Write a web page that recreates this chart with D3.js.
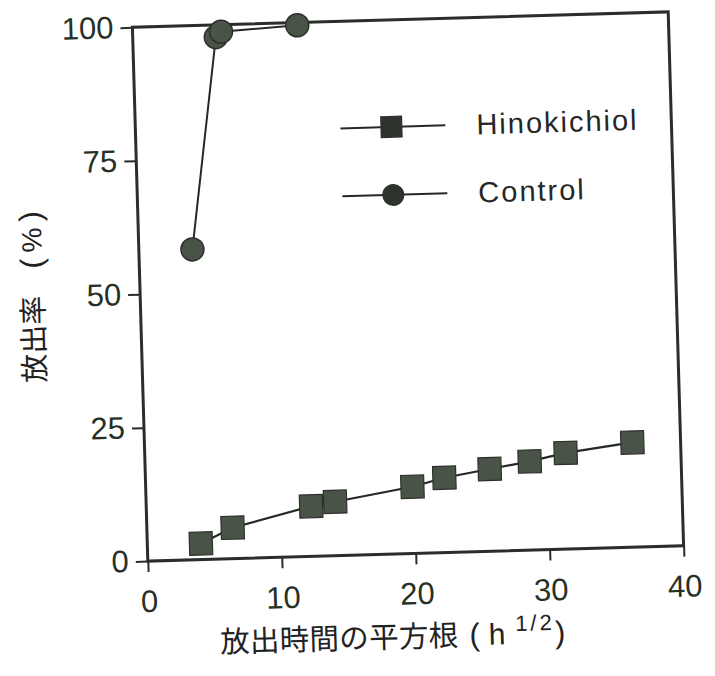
<!DOCTYPE html>
<html>
<head>
<meta charset="utf-8">
<script src="https://cdn.jsdelivr.net/npm/d3@7"></script>
<style>
  html, body { margin: 0; padding: 0; background: #fff; }
  svg { display: block; }
  .tick text { font-family: "Liberation Sans", Arial, sans-serif; font-size: 31px; fill: #263026; }
  .tick line { stroke: #2a2e2a; stroke-width: 2px; }
</style>
</head>
<body>
<svg id="chart" width="715" height="676"></svg>
<script>
// Release percentage versus square root of release time
const xTicks = [0, 10, 20, 30, 40];
const yTicks = [0, 25, 50, 75, 100];

const hinokichiolX = [4.0, 6.4, 12.3, 14.1, 19.9, 22.3, 25.7, 28.7, 31.4, 36.4];
const hinokichiolY = [3.0, 5.8, 9.4, 10.1, 12.5, 14.0, 15.4, 16.6, 18.0, 19.6];

const controlX = [4.0, 6.2, 6.6, 12.3];
const controlY = [58.1, 97.7, 98.7, 99.5];

const seriesNames = ["Hinokichiol", "Control"];

const plotLeft = 140, plotRight = 676, plotTop = 19.5, plotBottom = 553.5;

const svg = d3.select("#chart");
// the whole figure sits slightly tilted on the page
const g = svg.append("g").attr("transform", "rotate(-1.65, 408, 286.5)");

const x = d3.scaleLinear().domain([0, 40]).range([plotLeft, plotRight]);
const y = d3.scaleLinear().domain([0, 100]).range([plotBottom, plotTop]);

const markFill = "#4a5347";
const markStroke = "#2b302a";
const lineColor = "#252925";

// axes
const xAxis = g.append("g")
  .attr("transform", `translate(0,${plotBottom})`)
  .call(d3.axisBottom(x).tickValues(xTicks).tickSize(11).tickPadding(18).tickFormat(d3.format("d")));
xAxis.select(".domain").remove();

const yAxis = g.append("g")
  .attr("transform", `translate(${plotLeft},0)`)
  .call(d3.axisLeft(y).tickValues(yTicks).tickSize(12).tickPadding(7).tickFormat(d3.format("d")));
yAxis.select(".domain").remove();

// frame
g.append("rect")
  .attr("x", plotLeft).attr("y", plotTop)
  .attr("width", plotRight - plotLeft).attr("height", plotBottom - plotTop)
  .attr("fill", "none").attr("stroke", "#2a2e2a").attr("stroke-width", 3);

const line = d3.line().x(d => x(d[0])).y(d => y(d[1]));

const hinoData = hinokichiolX.map((v, i) => [v, hinokichiolY[i]]);
const ctrlData = controlX.map((v, i) => [v, controlY[i]]);

// Control series
g.append("path").datum(ctrlData).attr("d", line)
  .attr("fill", "none").attr("stroke", lineColor).attr("stroke-width", 2);
g.selectAll("circle.ctrl").data(ctrlData).join("circle")
  .attr("class", "ctrl")
  .attr("cx", d => x(d[0])).attr("cy", d => y(d[1])).attr("r", 11.5)
  .attr("fill", markFill).attr("stroke", markStroke).attr("stroke-width", 1.5);

// Hinokichiol series
g.append("path").datum(hinoData).attr("d", line)
  .attr("fill", "none").attr("stroke", lineColor).attr("stroke-width", 2.2);
const sq = 23;
g.selectAll("rect.hino").data(hinoData).join("rect")
  .attr("class", "hino")
  .attr("x", d => x(d[0]) - sq / 2).attr("y", d => y(d[1]) - sq / 2)
  .attr("width", sq).attr("height", sq)
  .attr("fill", markFill).attr("stroke", markStroke).attr("stroke-width", 1.2);

// legend
const legend = g.append("g");
const legRows = [
  { name: seriesNames[0], y: 126.5, shape: "square" },
  { name: seriesNames[1], y: 194.5, shape: "circle" }
];
legRows.forEach(r => {
  legend.append("line")
    .attr("x1", 345).attr("x2", 450).attr("y1", r.y).attr("y2", r.y)
    .attr("stroke", lineColor).attr("stroke-width", 2);
  if (r.shape === "square") {
    legend.append("rect").attr("x", 385).attr("y", r.y - 11).attr("width", 22).attr("height", 22)
      .attr("fill", "#2e332d");
  } else {
    legend.append("circle").attr("cx", 396).attr("cy", r.y).attr("r", 11)
      .attr("fill", "#2e332d");
  }
  legend.append("text")
    .attr("x", 481).attr("y", r.y + 10)
    .attr("font-family", "'Liberation Sans', Arial, sans-serif")
    .attr("font-size", 29).attr("letter-spacing", 2)
    .attr("fill", "#262626")
    .text(r.name);
});

// x-axis title
const latin = "'Liberation Sans', Arial, sans-serif";
const xt = g.append("text")
  .attr("x", 210).attr("y", 647)
  .attr("font-family", "'Noto Sans CJK JP', sans-serif")
  .attr("font-size", 29.5)
  .attr("fill", "#222");
xt.append("tspan").attr("letter-spacing", 0.3).text("放出時間の平方根");
xt.append("tspan").attr("font-family", latin).attr("font-size", 31).attr("dx", 11).text("(");
xt.append("tspan").attr("font-family", latin).attr("font-size", 30).attr("dx", 9).text("h");
xt.append("tspan").attr("font-family", latin).attr("font-size", 22)
  .attr("letter-spacing", 3).attr("dx", 10).attr("dy", -13).text("1/2");
xt.append("tspan").attr("font-family", latin).attr("font-size", 31).attr("dx", 0).attr("dy", 13).text(")");

// y-axis title
const yt = g.append("text")
  .attr("transform", "translate(43,372) rotate(-90)")
  .attr("font-family", "'Noto Sans CJK JP', sans-serif")
  .attr("font-size", 29)
  .attr("fill", "#222");
yt.append("tspan").text("放出率");
yt.append("tspan").attr("font-family", latin).attr("font-size", 31).attr("dx", 27).text("(");
yt.append("tspan").attr("font-family", latin).attr("font-size", 28).attr("dx", 6).text("%");
yt.append("tspan").attr("font-family", latin).attr("font-size", 31).attr("dx", 6).text(")");
</script>
</body>
</html>
